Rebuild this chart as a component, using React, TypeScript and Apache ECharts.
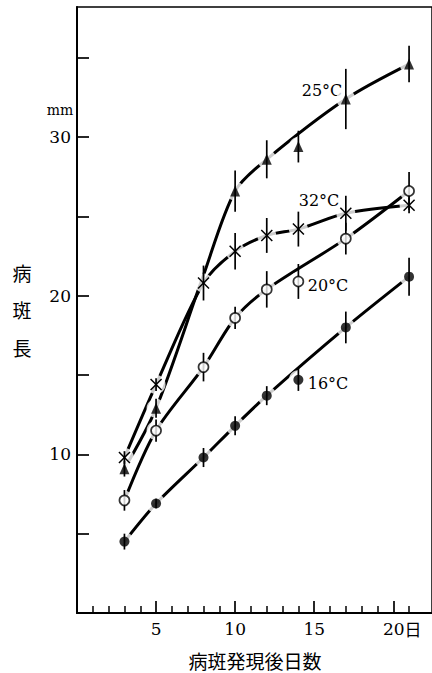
import React, { useEffect, useRef } from "react";
import * as echarts from "echarts";

// days after lesion appearance
const days = [3, 5, 8, 10, 12, 14, 17, 21];
// lesion length (mm)
const len25 = [9.1, 12.9, 21.3, 26.6, 28.6, 29.4, 32.4, 34.6];
const len32 = [9.8, 14.4, 20.8, 22.8, 23.8, 24.2, 25.2, 25.7];
const len20 = [7.1, 11.5, 15.5, 18.6, 20.4, 20.9, 23.6, 26.6];
const len16 = [4.5, 6.9, 9.8, 11.8, 13.7, 14.7, 18.0, 21.2];
// error bar half-lengths (mm)
const err25 = [0.5, 0.6, 0, 1.3, 1.2, 1.0, 1.9, 1.15];
const err32 = [0.4, 0.4, 1.1, 1.15, 1.1, 1.1, 1.1, 0.5];
const err20 = [0.65, 0.7, 0.9, 0.7, 1.15, 1.1, 1.0, 1.2];
const err16 = [0.5, 0.3, 0.6, 0.6, 0.6, 0.7, 1.0, 1.2];
// days where the 25°C marker is hidden (overlaps 32°C)
const hidden25 = [8];
// days the hand-drawn curve does not pass through (point lies off the curve)
const offCurve25 = [14];
const offCurve32: number[] = [];
const offCurve20 = [14];
const offCurve16 = [14];

const seriesNames = ["25°C", "32°C", "20°C", "16°C"];
const xMajorTicks = [5, 10, 15, 20];
const xMinorTicks = [1, 2, 3, 4, 6, 7, 8, 9, 11, 12, 13, 14, 16, 17, 18, 19, 21];
const yTicks = [5, 10, 15, 20, 25, 30, 35];
const yLabels = [10, 20, 30];
const xName = "病斑発現後日数";
const yNameChars = ["病", "斑", "長"];
const yUnit = "mm";

const SERIF = '"DejaVu Serif", "Liberation Serif", serif';
const CJK = '"Noto Sans CJK JP", sans-serif';

const pts = (vals: number[], skip: number[] = []) =>
  days.map((d, i) => [d, vals[i]]).filter((p) => !skip.includes(p[0] as number));
const errPts = (vals: number[], errs: number[]) => days.map((d, i) => [d, vals[i], errs[i]]);

export default function App() {
  const ref = useRef<HTMLDivElement>(null);
  useEffect(() => {
    const chart = echarts.init(ref.current!, null, { renderer: "svg" });

    const lineSeries = (vals: number[], skip: number[]) => ({
      type: "line",
      data: pts(vals, skip),
      symbol: "none",
      smooth: 0.3,
      lineStyle: { color: "#000", width: 3 },
      z: 2,
      silent: true,
    });
    const haloSeries = (vals: number[], skip: number[] = []) => ({
      type: "scatter",
      data: pts(vals, skip),
      symbol: "circle",
      symbolSize: 19,
      itemStyle: { color: "#fff" },
      z: 3,
      silent: true,
    });
    const errSeries = (vals: number[], errs: number[]) => ({
      type: "custom",
      data: errPts(vals, errs),
      encode: { x: 0, y: 1 },
      z: 4,
      silent: true,
      renderItem: (params: any, api: any) => {
        const x = api.value(0);
        const y = api.value(1);
        const e = api.value(2);
        if (!e) return null;
        const top = api.coord([x, y + e]);
        const bot = api.coord([x, y - e]);
        return {
          type: "line",
          shape: { x1: top[0], y1: top[1], x2: bot[0], y2: bot[1] },
          style: { stroke: "#000", lineWidth: 1.7 },
        };
      },
    });
    const textStyle = (text: string, font: string) => ({
      text,
      font,
      fill: "#000",
      textAlign: "center",
      textVerticalAlign: "middle",
      align: "center",
      verticalAlign: "middle",
    });

    const option: any = {
      animation: false,
      backgroundColor: "#fff",
      grid: {
        left: 77,
        right: 0,
        top: 7,
        bottom: 60,
        show: true,
        borderColor: "#000",
        borderWidth: 1.5,
      },
      xAxis: [
        {
          type: "value",
          min: 0,
          max: 22.45,
          interval: 5,
          axisLine: { show: true, lineStyle: { color: "#000", width: 2 } },
          axisTick: {
            show: true,
            inside: true,
            length: 12,
            customValues: xMajorTicks,
            lineStyle: { color: "#000", width: 1.7 },
          },
          axisLabel: {
            show: true,
            customValues: xMajorTicks,
            margin: 7,
            formatter: (v: number) => (v === 20 ? "{n|20}{j|日}" : "{m|" + v + "}"),
            rich: {
              m: { fontFamily: SERIF, fontSize: 17, color: "#000" },
              n: { fontFamily: SERIF, fontSize: 17, color: "#000", padding: [0, 0, 0, 18] },
              j: { fontFamily: CJK, fontSize: 17, color: "#000" },
            },
          },
          splitLine: { show: false },
        },
        {
          type: "value",
          min: 0,
          max: 22.45,
          interval: 1,
          position: "bottom",
          axisLine: { show: false },
          axisTick: {
            show: true,
            inside: true,
            length: 7,
            customValues: xMinorTicks,
            lineStyle: { color: "#000", width: 1.5 },
          },
          axisLabel: { show: false },
          splitLine: { show: false },
        },
      ],
      yAxis: {
        type: "value",
        min: 0,
        max: 38.2,
        interval: 5,
        axisLine: { show: true, lineStyle: { color: "#000", width: 2 } },
        axisTick: {
          show: true,
          inside: true,
          length: 12,
          customValues: yTicks,
          lineStyle: { color: "#000", width: 1.7 },
        },
        axisLabel: {
          show: true,
          customValues: yLabels,
          formatter: (v: number) => (yLabels.includes(v) ? String(v) : ""),
          margin: 6,
          fontFamily: SERIF,
          fontSize: 17,
          color: "#000",
        },
        splitLine: { show: false },
      },
      graphic: [
        { type: "text", x: 60, y: 110, style: textStyle(yUnit, "14px " + SERIF) },
        ...yNameChars.map((c, i) => ({
          type: "text",
          x: 22,
          y: 272 + i * 37.5,
          style: textStyle(c, "19px " + CJK),
        })),
        { type: "text", x: 255, y: 660, style: textStyle(xName, "19px " + CJK) },
        ...[
          [322, 90],
          [319, 200],
          [328, 285],
          [328, 383],
        ].map((p, i) => ({
          type: "text",
          x: p[0],
          y: p[1],
          style: textStyle(seriesNames[i], "16px " + SERIF),
        })),
      ],
      series: [
        lineSeries(len25, offCurve25),
        lineSeries(len32, offCurve32),
        lineSeries(len20, offCurve20),
        lineSeries(len16, offCurve16),
        haloSeries(len25, hidden25),
        haloSeries(len32),
        haloSeries(len20),
        haloSeries(len16),
        errSeries(len25, err25),
        errSeries(len32, err32),
        errSeries(len20, err20),
        errSeries(len16, err16),
        {
          name: seriesNames[0],
          type: "scatter",
          data: pts(len25, hidden25),
          symbol: "triangle",
          symbolSize: [10, 11],
          itemStyle: { color: "#000" },
          z: 5,
        },
        {
          name: seriesNames[1],
          type: "custom",
          data: pts(len32),
          encode: { x: 0, y: 1 },
          z: 5,
          renderItem: (params: any, api: any) => {
            const c = api.coord([api.value(0), api.value(1)]);
            const h = 5.5;
            return {
              type: "group",
              children: [
                {
                  type: "line",
                  shape: { x1: c[0] - h, y1: c[1] - h, x2: c[0] + h, y2: c[1] + h },
                  style: { stroke: "#000", lineWidth: 1.5 },
                },
                {
                  type: "line",
                  shape: { x1: c[0] - h, y1: c[1] + h, x2: c[0] + h, y2: c[1] - h },
                  style: { stroke: "#000", lineWidth: 1.5 },
                },
              ],
            };
          },
        },
        {
          name: seriesNames[2],
          type: "scatter",
          data: pts(len20),
          symbol: "circle",
          symbolSize: 10,
          itemStyle: { color: "#fff", borderColor: "#000", borderWidth: 1.7 },
          z: 5,
        },
        {
          name: seriesNames[3],
          type: "scatter",
          data: pts(len16),
          symbol: "circle",
          symbolSize: 10,
          itemStyle: { color: "#000" },
          z: 5,
        },
      ],
    };
    chart.setOption(option);
    return () => chart.dispose();
  }, []);
  return (
    <div
      ref={ref}
      style={{ position: "absolute", left: 0, top: 0, width: 432, height: 673, background: "#fff" }}
    />
  );
}
